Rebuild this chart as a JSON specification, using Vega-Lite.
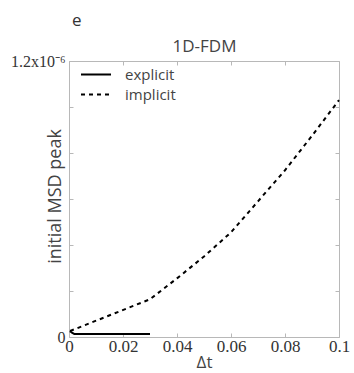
{
  "$schema": "https://vega.github.io/schema/vega-lite/v6.json",
  "width": 270,
  "height": 276,
  "autosize": {"type": "none"},
  "padding": {"left": 69, "top": 61, "right": 15, "bottom": 36},
  "background": "white",
  "title": {"text": "e", "anchor": "start", "frame": "group", "dx": 3, "offset": 8, "font": "Open Sans", "fontSize": 17, "fontWeight": "normal", "color": "#333333"},
  "config": {
    "view": {"stroke": null},
    "axis": {"grid": false, "domainColor": "#b8b8b8", "tickColor": "#b8b8b8", "tickSize": -4, "labelFont": "Liberation Serif", "labelFontSize": 17, "labelColor": "#333333", "titleFont": "Open Sans", "titleFontWeight": "normal", "titleFontSize": 14, "titleColor": "#444444"},
    "legend": {"labelFont": "Open Sans", "labelFontSize": 15, "labelColor": "#444444"}
  },
  "data": {"values": [
    {"dt": 0.0003, "v": 0.025e-6, "method": "explicit"},
    {"dt": 0.002, "v": 0.013e-6, "method": "explicit"},
    {"dt": 0.03, "v": 0.013e-6, "method": "explicit"},
    {"dt": 0.0004, "v": 0.026e-6, "method": "implicit"},
    {"dt": 0.03, "v": 0.164e-6, "method": "implicit"},
    {"dt": 0.04, "v": 0.255e-6, "method": "implicit"},
    {"dt": 0.05, "v": 0.35e-6, "method": "implicit"},
    {"dt": 0.06, "v": 0.455e-6, "method": "implicit"},
    {"dt": 0.07, "v": 0.59e-6, "method": "implicit"},
    {"dt": 0.08, "v": 0.725e-6, "method": "implicit"},
    {"dt": 0.09, "v": 0.875e-6, "method": "implicit"},
    {"dt": 0.1, "v": 1.03e-6, "method": "implicit"}
  ]},
  "layer": [
    {
      "mark": {"type": "line", "color": "black", "strokeWidth": 2},
      "encoding": {
        "x": {"field": "dt", "type": "quantitative", "scale": {"domain": [0, 0.1], "nice": false},
              "axis": {"orient": "bottom", "values": [0, 0.02, 0.04, 0.06, 0.08, 0.1], "format": "~g", "labelPadding": 5, "title": "Δt", "titleFontSize": 17, "titlePadding": 0, "labelFlush": false}},
        "y": {"field": "v", "type": "quantitative", "scale": {"domain": [0, 1.2e-6], "nice": false},
              "axis": {"orient": "left", "values": [0, 0.2e-6, 0.4e-6, 0.6e-6, 0.8e-6, 1.0e-6, 1.2e-6], "labelExpr": "datum.value == 0 ? '0' : (datum.value > 1.19e-6 ? '1.2x10⁻⁶' : '')", "labelFontSize": 16, "labelPadding": 8, "title": "initial MSD peak", "titleFontSize": 18, "titleX": -9, "titleY": 135, "titleBaseline": "alphabetic", "labelFlush": false}},
        "strokeDash": {"field": "method", "type": "nominal", "scale": {"domain": ["explicit", "implicit"], "range": [[1, 0], [4, 4]]},
                       "legend": {"orient": "none", "legendX": 11, "legendY": 5, "title": null, "symbolType": "M-1,0H3", "symbolSize": 225, "symbolStrokeColor": "black", "symbolStrokeWidth": 2, "rowPadding": 3, "labelOffset": 28}},
        "detail": {"field": "method"}
      }
    },
    {
      "mark": {"type": "line", "opacity": 0},
      "encoding": {
        "x": {"field": "dt", "type": "quantitative", "axis": {"orient": "top", "values": [0, 0.02, 0.04, 0.06, 0.08, 0.1], "labels": false, "title": "1D-FDM", "titleFontSize": 17, "titlePadding": 5}},
        "y": {"field": "v", "type": "quantitative", "axis": {"orient": "right", "values": [0, 0.2e-6, 0.4e-6, 0.6e-6, 0.8e-6, 1.0e-6, 1.2e-6], "labels": false, "title": null}},
        "detail": {"field": "method"}
      }
    }
  ],
  "resolve": {"axis": {"x": "independent", "y": "independent"}}
}
